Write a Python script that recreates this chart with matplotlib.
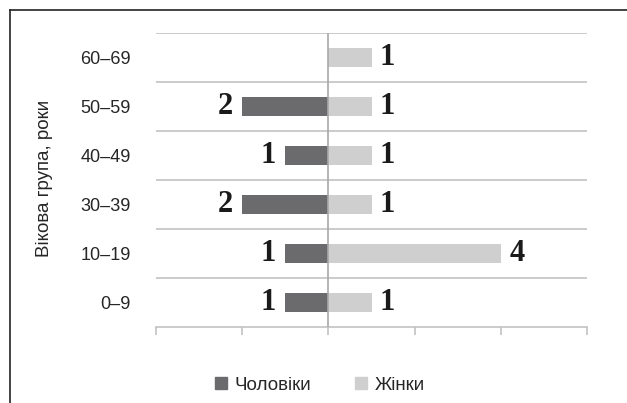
import matplotlib
matplotlib.use("Agg")
import matplotlib.pyplot as plt
from matplotlib.lines import Line2D
import numpy as np

plt.rcParams['font.family'] = ['Liberation Sans', 'DejaVu Sans']

age_groups = ['0–9', '10–19', '30–39', '40–49', '50–59', '60–69']
men = [1, 1, 2, 1, 2, 0]
women = [1, 4, 1, 1, 1, 1]
x_ticks = [-4, -2, 0, 2, 4, 6]

men_color = '#6b6b6d'
women_color = '#cfcfd0'
grid_color = '#c2c2c4'
text_color = '#262626'

W, H = 627, 403
fig = plt.figure(figsize=(W / 100, H / 100), dpi=100)
ax = fig.add_axes([156 / W, 1 - 327 / H, (587 - 156) / W, (327 - 33) / H])

y = np.arange(len(age_groups))
men_vals = -np.array(men, dtype=float)
women_vals = np.array(women, dtype=float)

ax.barh(y, men_vals, height=0.4, color=men_color, zorder=3)
ax.barh(y, women_vals, height=0.4, color=women_color, zorder=3)

label_font = dict(family=['Liberation Serif', 'DejaVu Serif'], fontsize=22,
                  fontweight='bold', color='#1a1a1a')
for yi, m, w in zip(y, men, women):
    if m:
        ax.annotate(str(m), (-m, yi), xytext=(-7, 0), textcoords='offset points',
                    ha='right', va='center', **label_font)
    if w:
        ax.annotate(str(w), (w, yi), xytext=(6, 0), textcoords='offset points',
                    ha='left', va='center', **label_font)

ax.set_xlim(x_ticks[0], x_ticks[-1])
ax.set_ylim(-0.5, len(age_groups) - 0.5)

# category separators
for b in np.arange(0.5, len(age_groups), 1.0):
    ax.axhline(b, color=grid_color, lw=1.2, zorder=1)
ax.axvline(0, color='#a8a8aa', lw=1.2, zorder=4)

ax.set_xticks(x_ticks)
ax.set_xticklabels([])
ax.tick_params(axis='x', direction='out', length=6, width=1.2, color=grid_color)
ax.set_yticks(y)
ax.set_yticklabels(age_groups, fontsize=13, color=text_color)
ax.tick_params(axis='y', length=0, pad=18)

for side in ['left', 'right', 'top']:
    ax.spines[side].set_visible(False)
ax.spines['bottom'].set_color(grid_color)
ax.spines['bottom'].set_linewidth(1.2)

fig.text(45 / W, 1 - 178 / H, 'Вікова група, роки', rotation=90,
         ha='center', va='center', fontsize=13.5, color=text_color)

handles = [
    Line2D([], [], marker='s', linestyle='none', markersize=9, color=men_color),
    Line2D([], [], marker='s', linestyle='none', markersize=9, color=women_color),
]
fig.legend(handles, ['Чоловіки', 'Жінки'], loc='center',
           bbox_to_anchor=(318 / W, 1 - 385 / H), ncol=2, frameon=False,
           fontsize=13.5, handletextpad=0.2, columnspacing=2.2,
           handlelength=1.0, labelcolor=text_color)

# outer frame
fig.add_artist(Line2D([10 / W, 10 / W], [0, 1 - 10 / H], color='#222222', lw=1.2,
                      transform=fig.transFigure))
fig.add_artist(Line2D([10 / W, 1], [1 - 10 / H, 1 - 10 / H], color='#222222', lw=1.2,
                      transform=fig.transFigure))

fig.savefig('out.png', dpi=100)
